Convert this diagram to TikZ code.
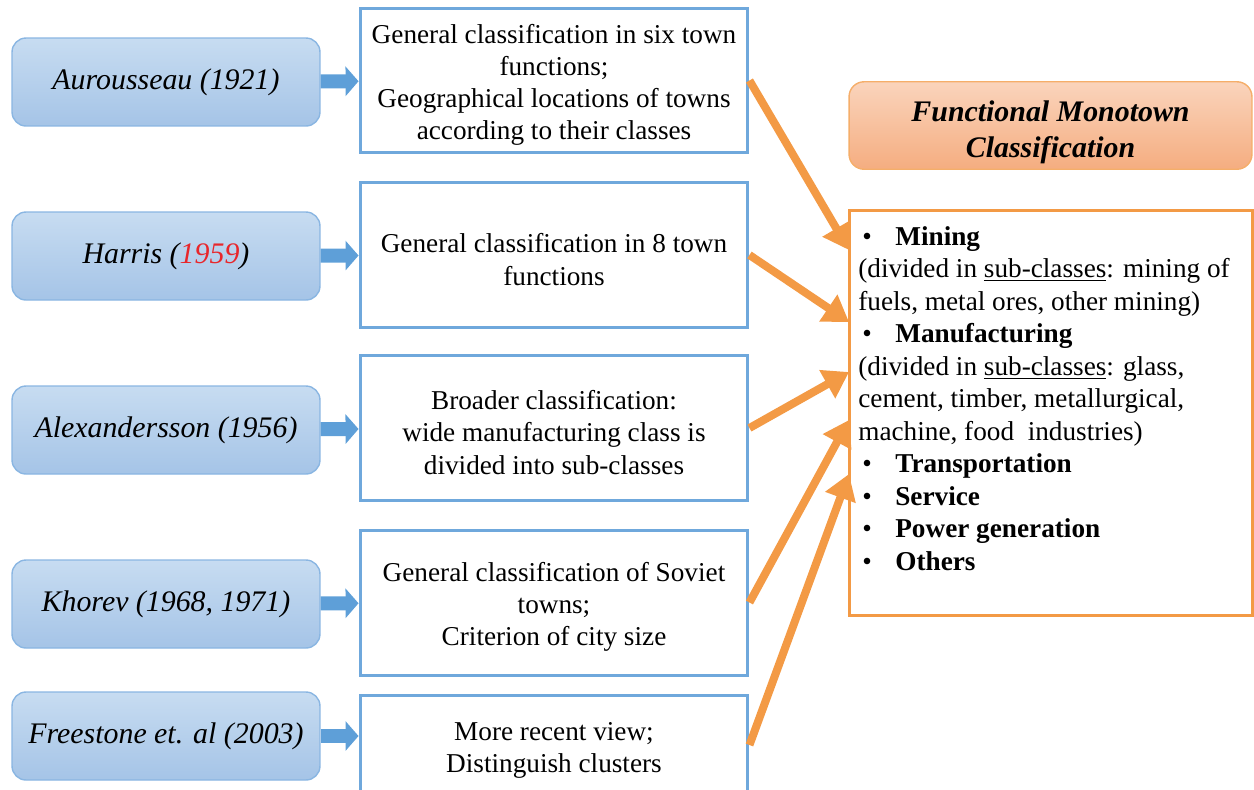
\documentclass[tikz,border=0pt]{standalone}
\usepackage{fontspec}
\setmainfont{Liberation Serif}
\usepackage{xcolor}
\usepackage{tikz}
\usetikzlibrary{arrows.meta}

\definecolor{boxblue}{HTML}{6FA8DC}
\definecolor{arrowblue}{HTML}{5E9FD8}
\definecolor{authtop}{HTML}{C7DCF1}
\definecolor{authbot}{HTML}{A5C4E7}
\definecolor{authline}{HTML}{8AB6E2}
\definecolor{orng}{HTML}{F39A45}
\definecolor{titletop}{HTML}{FAD4BC}
\definecolor{titlebot}{HTML}{F5AD80}
\definecolor{yearred}{HTML}{E8262B}

\newcommand{\bitem}[1]{\makebox[0.74cm][l]{\hspace{0.08cm}\textbullet}\textbf{#1}}
\newcommand{\toprule}{\rule{0pt}{16pt}}

\begin{document}
\begin{tikzpicture}
    [x=0.02cm,y=-0.02cm,
    author/.style={shape=rectangle,rounded corners=0.28cm,draw=authline,line width=0.8pt,top color=authtop,bottom color=authbot,minimum width=6.16cm,minimum height=1.76cm,font=\fontsize{17}{20}\selectfont\itshape},
    desc/.style={shape=rectangle,draw=boxblue,line width=0.06cm,fill=white,minimum width=7.76cm,minimum height=2.9cm,align=center,font=\fontsize{15.5}{18.3}\selectfont},
    head/.style={shape=rectangle,rounded corners=0.3cm,draw=orng!80,line width=0.8pt,top color=titletop,bottom color=titlebot,minimum width=8.06cm,minimum height=1.7cm,align=center,font=\fontsize{17}{20.5}\selectfont\bfseries\itshape},
    panel/.style={shape=rectangle,draw=orng,line width=0.06cm,fill=white,minimum width=8.08cm,minimum height=8.12cm},
    barrow/.style={-{Triangle[length=0.26cm,width=0.58cm]},line width=0.28cm,draw=arrowblue},
    oarrow/.style={-{Triangle[length=0.5cm,width=0.62cm]},line width=0.16cm,draw=orng}]

    \useasboundingbox (0,0) rectangle (1254,789);

    % sources
    \node (a1) [author] at (166,82) {Aurousseau (1921)};
    \node (a2) [author] at (166,256) {Harris ({\color{yearred}1959})};
    \node (a3) [author] at (166,430) {Alexandersson (1956)};
    \node (a4) [author] at (166,604) {Khorev (1968, 1971)};
    \node (a5) [author] at (166,736) {Freestone et. al (2003)};

    \node (d1) [desc] at (554,80.5) {\toprule General classification in six town\\functions;\\Geographical locations of towns\\according to their classes};
    \node (d2) [desc] at (554,255) {\toprule General classification in 8 town\\functions};
    \node (d3) [desc] at (554,428) {\toprule Broader classification:\\wide manufacturing class is\\divided into sub-classes};
    \node (d4) [desc] at (554,602.5) {\toprule General classification of Soviet\\towns;\\Criterion of city size};
    \node (d5) [desc,minimum height=2cm] at (554,745) {\toprule More recent view;\\Distinguish clusters};

    % classification
    \node (title) [head] at (1050.5,125.5) {\rule{0pt}{19pt}Functional Monotown\\Classification};
    \node (list) [panel] at (1051,413) {};
    \node (items) [anchor=north west,inner sep=0pt,align=left,font=\fontsize{15.5}{18.5}\selectfont] at (858,226)
      {\bitem{Mining}\\
       (divided in \underline{sub-classes}: mining of\\
       fuels, metal ores, other mining)\\
       \bitem{Manufacturing}\\
       (divided in \underline{sub-classes}: glass,\\
       cement, timber, metallurgical,\\
       machine, food~ industries)\\
       \bitem{Transportation}\\
       \bitem{Service}\\
       \bitem{Power generation}\\
       \bitem{Others}};

    \coordinate (t1) at (849,250);
    \coordinate (t2) at (849,322);
    \coordinate (t3) at (849,372);
    \coordinate (t4) at (849,420);
    \coordinate (t5) at (849,474);

    \draw [barrow] (a1) -- (d1);
    \draw [barrow] (a2) -- (d2);
    \draw [barrow] (a3) -- (d3);
    \draw [barrow] (a4) -- (d4);
    \draw [barrow] (a5) -- (a5 -| d5.west);

    \draw [oarrow] (d1.east) -- (t1);
    \draw [oarrow] (d2.east) -- (t2);
    \draw [oarrow] (d3.east) -- (t3);
    \draw [oarrow] (d4.east) -- (t4);
    \draw [oarrow] (d5.east) -- (t5);

  \end{tikzpicture}
\end{document}
